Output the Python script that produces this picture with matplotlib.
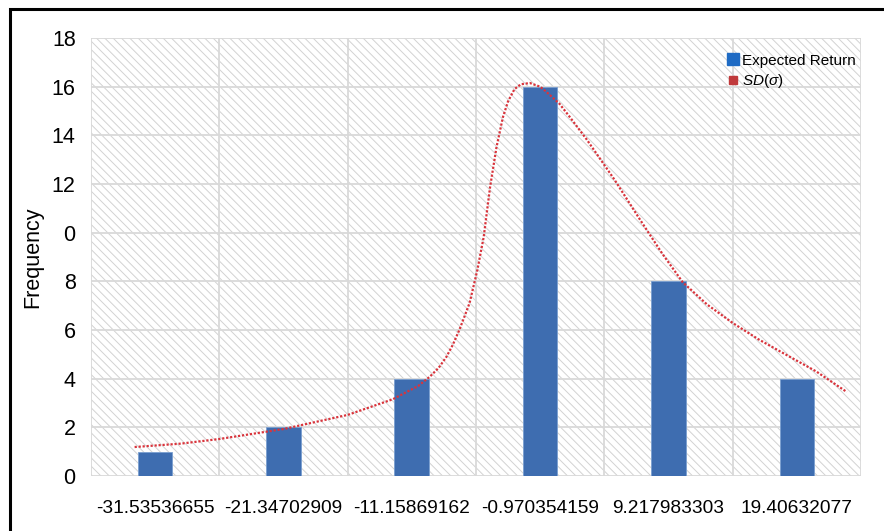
"""
Frequency histogram of expected returns with the SD(sigma) curve on top.
Writes out.png.
"""
import matplotlib.pyplot as plt
from matplotlib.patches import Rectangle
from matplotlib.lines import Line2D

plt.rcParams["font.family"] = ["Liberation Sans", "DejaVu Sans"]
plt.rcParams["mathtext.fontset"] = "custom"
plt.rcParams["mathtext.rm"] = "Liberation Sans"
plt.rcParams["mathtext.it"] = "Liberation Sans:italic"
plt.rcParams["hatch.linewidth"] = 0.7

# bins (labels as printed on the axis) and counts
categories = ["-31.53536655", "-21.34702909", "-11.15869162",
              "-0.970354159", "9.217983303", "19.40632077"]
counts = [1, 2, 4, 16, 8, 4]

# y tick labels, the source prints "0" where 10 should be
y_ticks = [0, 2, 4, 6, 8, 10, 12, 14, 16, 18]
y_labels = ["0", "2", "4", "6", "8", "0", "12", "14", "16", "18"]

# SD(sigma) curve in category units
curve_x = [-0.16, 0.20, 0.50, 1.00, 1.50, 1.85, 2.05, 2.14, 2.21, 2.27, 2.32,
           2.37, 2.41, 2.45, 2.51, 2.56, 2.61, 2.66, 2.71, 2.75, 2.80, 2.85,
           2.92, 3.00, 3.05, 3.15, 3.23, 3.36, 3.49, 3.58, 3.78, 3.95, 4.11,
           4.30, 4.50, 4.70, 4.89, 5.15, 5.39]
curve_y = [1.19, 1.33, 1.52, 1.93, 2.51, 3.15, 3.70, 4.08, 4.45, 4.90, 5.40,
           6.00, 6.55, 7.11, 8.45, 9.82, 11.88, 13.52, 14.75, 15.40, 15.90,
           16.10, 16.15, 16.00, 15.78, 15.30, 14.76, 13.85, 12.86, 12.17, 10.52,
           9.15, 7.97, 7.05, 6.29, 5.62, 5.06, 4.30, 3.45]

fig = plt.figure(figsize=(8.84, 5.31), dpi=100)
ax = fig.add_axes([0.1029, 0.1036, 0.8711, 0.8248])

# hatched plot background
ax.add_patch(Rectangle((0, 0), 1, 1, transform=ax.transAxes, facecolor="white",
                       edgecolor="#d2d2d2", hatch="\\" * 4, lw=0, zorder=0.1))

x = list(range(len(categories)))
ax.bar(x, counts, width=0.27, color="#3e6db0", edgecolor="#7a9fd0",
       linewidth=0.6, zorder=2)
ax.plot(curve_x, curve_y, color="#d9343c", lw=1.6, ls=(0, (1, 0.8)), zorder=3)

ax.set_xlim(-0.5, len(categories) - 0.5)
ax.set_ylim(0, 18)
ax.set_xticks(x)
ax.set_xticklabels(categories, fontsize=13.8)
ax.set_xticks([i - 0.5 for i in range(len(categories) + 1)], minor=True)
ax.set_yticks(y_ticks)
ax.set_yticklabels(y_labels, fontsize=15.5)
ax.tick_params(which="both", length=0)
ax.tick_params(axis="x", pad=17)
ax.tick_params(axis="y", pad=11)
ax.set_axisbelow(True)
ax.grid(axis="y", which="major", color="#d9d9d9", lw=1.3)
ax.grid(axis="x", which="minor", color="#d9d9d9", lw=1.3)
for side in ax.spines.values():
    side.set_visible(False)
ax.set_ylabel("Frequency", fontsize=15.5, labelpad=6)

handles = [
    Line2D([], [], marker="s", ls="none", markersize=8, color="#1f6bc4"),
    Line2D([], [], marker="s", ls="none", markersize=6, color="#c0393b"),
]
ax.legend(handles, ["Expected Return", r"$SD(\sigma)$"], loc="upper right",
          bbox_to_anchor=(1.005, 0.985), frameon=False, fontsize=11,
          handlelength=0.6, handletextpad=0.3, labelspacing=0.3,
          borderaxespad=0.2)

# black frame round the figure (left and top visible)
fig.patches.append(Rectangle((0.011, -0.1), 1.2, 1.1 - 0.017,
                             transform=fig.transFigure, fill=False,
                             edgecolor="black", lw=2.2))

fig.savefig("out.png", dpi=100)
